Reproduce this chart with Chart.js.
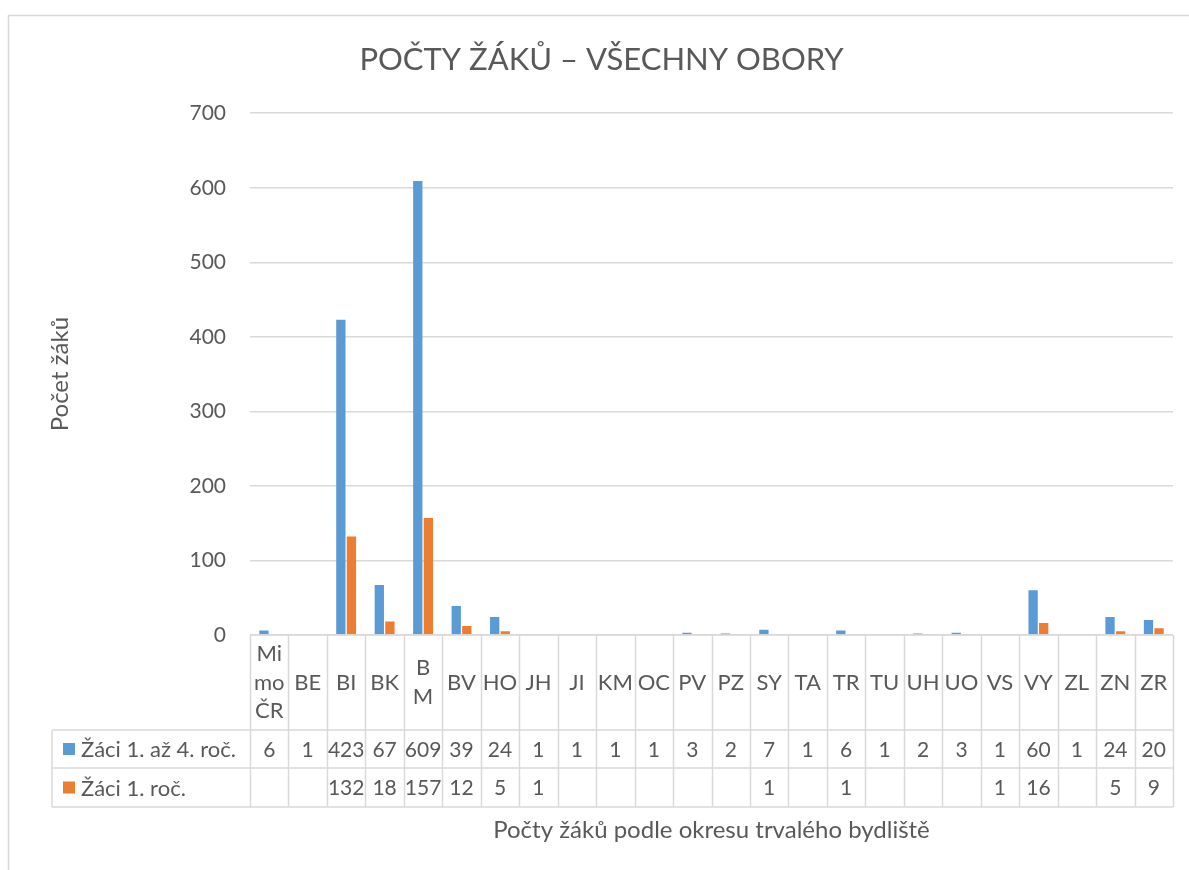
<!DOCTYPE html>
<html>
<head>
<meta charset="utf-8">
<script src="https://cdn.jsdelivr.net/npm/chart.js@4.4.1/dist/chart.umd.min.js"></script>
<style>
  html, body { margin: 0; padding: 0; background: #fff; }
  #wrap { width: 1189px; height: 870px; position: relative; }
</style>
</head>
<body>
<div id="wrap"><canvas id="pupilsChart" width="1189" height="870"></canvas></div>
<script>
// ── Data ──────────────────────────────────────────────────────
const districts = [['Mi', 'mo', 'ČR'], 'BE', 'BI', 'BK', ['B', 'M'], 'BV', 'HO', 'JH', 'JI', 'KM',
                   'OC', 'PV', 'PZ', 'SY', 'TA', 'TR', 'TU', 'UH', 'UO', 'VS', 'VY', 'ZL', 'ZN', 'ZR'];
const pupilsAll   = [6, 1, 423, 67, 609, 39, 24, 1, 1, 1, 1, 3, 2, 7, 1, 6, 1, 2, 3, 1, 60, 1, 24, 20];
const pupilsFirst = [null, null, 132, 18, 157, 12, 5, 1, null, null, null, null, null, 1, null, 1,
                     null, null, null, 1, 16, null, 5, 9];
const seriesNames = ['Žáci 1. až 4. roč.', 'Žáci 1. roč.'];
const yTicks      = [0, 100, 200, 300, 400, 500, 600, 700];

const FONT   = 'Lato, "Open Sans", sans-serif';
const TXT    = '#595959';
const LINE   = '#d9d9d9';
const COLORS = ['#5b9bd5', '#ed7d31'];

// ── Plugin: outer frame + data table under the plot ──────────
const dataTable = {
    id: 'dataTable',
    beforeDraw(chart) {
        const c = chart.ctx;
        c.save();
        c.fillStyle = '#fff';
        c.fillRect(0, 0, chart.width, chart.height);
        c.strokeStyle = LINE;
        c.lineWidth = 1.5;
        c.beginPath();
        c.moveTo(8.5, chart.height + 5);
        c.lineTo(8.5, 15.5);
        c.lineTo(chart.width + 5, 15.5);
        c.stroke();
        c.restore();
    },
    afterDraw(chart) {
        const c = chart.ctx;
        const area = chart.chartArea;
        const xs = chart.scales.x;
        const n = districts.length;
        const colW = (area.right - area.left) / n;
        const top = area.bottom;
        const row1 = 730, row2 = 768, bottom = 807;
        const legLeft = 52;

        c.save();
        c.strokeStyle = LINE;
        c.lineWidth = 1.5;
        c.beginPath();
        // horizontal lines
        c.moveTo(area.left, top); c.lineTo(area.right, top);
        [row1, row2, bottom].forEach(y => { c.moveTo(legLeft, y); c.lineTo(area.right, y); });
        // vertical lines
        for (let i = 0; i <= n; i++) {
            const x = Math.round(area.left + i * colW) + 0.5;
            c.moveTo(x, top); c.lineTo(x, bottom);
        }
        c.moveTo(legLeft, row1); c.lineTo(legLeft, bottom);
        c.stroke();

        c.fillStyle = TXT;
        c.font = '22px ' + FONT;
        c.textAlign = 'center';
        c.textBaseline = 'middle';
        const lh = 28.5;
        districts.forEach((lab, i) => {
            const cx = xs.getPixelForValue(i);
            const lines = Array.isArray(lab) ? lab : [lab];
            const y0 = (top + row1) / 2 - (lines.length - 1) * lh / 2;
            lines.forEach((t, k) => c.fillText(t, cx, y0 + k * lh));
            c.font = '21px ' + FONT;
            if (pupilsAll[i] != null) c.fillText(String(pupilsAll[i]), cx, (row1 + row2) / 2 + 1);
            if (pupilsFirst[i] != null) c.fillText(String(pupilsFirst[i]), cx, (row2 + bottom) / 2 + 1);
            c.font = '22px ' + FONT;
        });

        // legend keys
        c.textAlign = 'left';
        [[row1, row2], [row2, bottom]].forEach(([a, b], k) => {
            const cy = (a + b) / 2;
            c.fillStyle = COLORS[k];
            c.fillRect(63, cy - 6, 12, 12);
            c.fillStyle = TXT;
            c.fillText(seriesNames[k], 81, cy + 1);
        });
        c.restore();
    }
};

// ── Chart ─────────────────────────────────────────────────────
const chart = new Chart(document.getElementById('pupilsChart').getContext('2d'), {
    type: 'bar',
    data: {
        labels: districts,
        datasets: seriesNames.map((name, k) => ({
            label: name,
            data: k === 0 ? pupilsAll : pupilsFirst,
            backgroundColor: COLORS[k],
            borderWidth: 0,
            categoryPercentage: 0.55,
            barPercentage: 0.88
        }))
    },
    options: {
        responsive: false,
        animation: false,
        layout: { padding: { left: 30, right: 16, top: 0, bottom: 0 } },
        plugins: {
            legend: { display: false },
            tooltip: { enabled: false },
            title: {
                display: true,
                text: 'POČTY ŽÁKŮ – VŠECHNY OBORY',
                color: TXT,
                font: { family: FONT, size: 31, weight: 'normal', lineHeight: 1.2 },
                padding: { top: 41, bottom: 35 }
            }
        },
        scales: {
            x: {
                grid: { display: false },
                border: { display: false },
                ticks: { display: false },
                title: {
                    display: true,
                    text: 'Počty žáků podle okresu trvalého bydliště',
                    color: TXT,
                    font: { family: FONT, size: 24, lineHeight: 1.2 },
                    padding: { top: 0, bottom: 25 }
                },
                afterFit(s) { s.height = 870 - 635; }
            },
            y: {
                min: 0,
                max: 700,
                afterBuildTicks(s) { s.ticks = yTicks.map(v => ({ value: v })); },
                ticks: { color: TXT, font: { family: FONT, size: 21 }, padding: 24 },
                grid: { color: LINE, lineWidth: 1.5, drawTicks: false },
                border: { display: false },
                title: {
                    display: true,
                    text: 'Počet žáků',
                    color: TXT,
                    font: { family: FONT, size: 24, lineHeight: 1.2 },
                    padding: { top: 16, bottom: 0 }
                },
                afterFit(s) { s.width = 250 - 30; }
            }
        }
    },
    plugins: [dataTable]
});
</script>
</body>
</html>
